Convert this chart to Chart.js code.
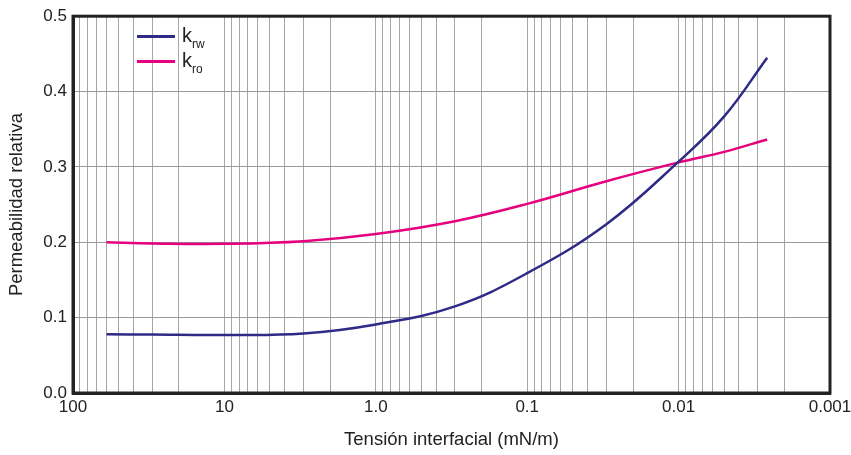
<!DOCTYPE html>
<html>
<head>
<meta charset="utf-8">
<script src="https://cdn.jsdelivr.net/npm/chart.js@4"></script>
<style>
  body { margin: 0; background: #fff; }
  #wrap { position: relative; width: 851px; height: 455px; }
  #chart { display: block; }
  .leg { position: absolute; left: 0; top: 0; font-family: "Liberation Sans", Arial, sans-serif; color: #222; }
  .leg .ln { position: absolute; left: 137px; width: 38px; height: 3px; }
  .leg .tx { position: absolute; left: 182px; font-size: 20px; line-height: 20px; white-space: nowrap; }
  .leg sub { font-size: 12px; vertical-align: -6px; }
</style>
</head>
<body>
<div id="wrap">
  <canvas id="chart" width="851" height="455"></canvas>
  <div class="leg">
    <div class="ln" style="top:35px;background:#2f2a85"></div>
    <div class="tx" style="top:25px">k<sub>rw</sub></div>
    <div class="ln" style="top:60px;background:#e6007e"></div>
    <div class="tx" style="top:50px">k<sub>ro</sub></div>
  </div>
</div>
<script>
// tensión interfacial (mN/m)
const tension = [60, 30, 10, 3, 1, 0.3, 0.1, 0.03, 0.01, 0.005, 0.0026];
const krw = [0.078, 0.0775, 0.077, 0.079, 0.091, 0.115, 0.159, 0.224, 0.307, 0.367, 0.445];
const kro = [0.200, 0.1985, 0.198, 0.2015, 0.211, 0.228, 0.251, 0.281, 0.306, 0.320, 0.3364];

const xMajor = [100, 10, 1, 0.1, 0.01, 0.001];
const xMajorLabels = ['100', '10', '1.0', '0.1', '0.01', '0.001'];
const yTicks = [0, 0.1, 0.2, 0.3, 0.4, 0.5];

const FONT = '"Liberation Sans", Arial, sans-serif';
const TXT = '#222';

// lineas de la grilla logaritmica: 1..9 de cada decada
const xGrid = [];
xMajor.slice(1).forEach(d => { for (let m = 1; m <= 9; m++) xGrid.push(+(d * m).toPrecision(3)); });
xGrid.push(100);

const frame = {
  id: 'frame',
  afterDraw(c) {
    const a = c.chartArea, ctx = c.ctx;
    ctx.save();
    ctx.strokeStyle = '#222';
    ctx.lineWidth = 3;
    ctx.strokeRect(a.left, a.top, a.right - a.left, a.bottom - a.top);
    ctx.restore();
  }
};

new Chart(document.getElementById('chart'), {
  type: 'line',
  data: {
    datasets: [
      { label: 'krw', data: tension.map((t, i) => ({ x: t, y: krw[i] })), borderColor: '#2f2a85', borderWidth: 2.5 },
      { label: 'kro', data: tension.map((t, i) => ({ x: t, y: kro[i] })), borderColor: '#e6007e', borderWidth: 2.5 }
    ]
  },
  options: {
    responsive: false,
    animation: false,
    layout: { padding: { top: 15, right: 21, left: 0, bottom: 0 } },
    elements: { point: { radius: 0 }, line: { tension: 0.4 } },
    plugins: { legend: { display: false }, tooltip: { enabled: false } },
    scales: {
      x: {
        type: 'logarithmic',
        reverse: true,
        min: 0.001,
        max: 100,
        afterBuildTicks: s => { s.ticks = xGrid.map(v => ({ value: v })); },
        afterFit: s => { s.height = 62; },
        ticks: {
          autoSkip: false,
          maxRotation: 0,
          padding: 4,
          color: TXT,
          font: { family: FONT, size: 17 },
          callback: v => {
            const i = xMajor.findIndex(m => Math.abs(m - v) / m < 1e-6);
            return i >= 0 ? xMajorLabels[i] : '';
          }
        },
        grid: { color: '#a6a6a6', drawTicks: false },
        border: { color: '#222', width: 3 },
        title: { display: true, text: 'Tensión interfacial (mN/m)', color: TXT, font: { family: FONT, size: 18.5 }, padding: { top: 11 } }
      },
      y: {
        min: 0,
        max: 0.5,
        afterBuildTicks: s => { s.ticks = yTicks.map(v => ({ value: v })); },
        afterFit: s => { s.width = 73; },
        ticks: { padding: 6, color: TXT, font: { family: FONT, size: 17 }, callback: v => v.toFixed(1) },
        grid: { color: '#999', drawTicks: false },
        border: { color: '#222', width: 3 },
        title: { display: true, text: 'Permeabilidad relativa', color: TXT, font: { family: FONT, size: 18.5 }, padding: { top: 6, bottom: 4 } }
      }
    }
  },
  plugins: [frame]
});
</script>
</body>
</html>
